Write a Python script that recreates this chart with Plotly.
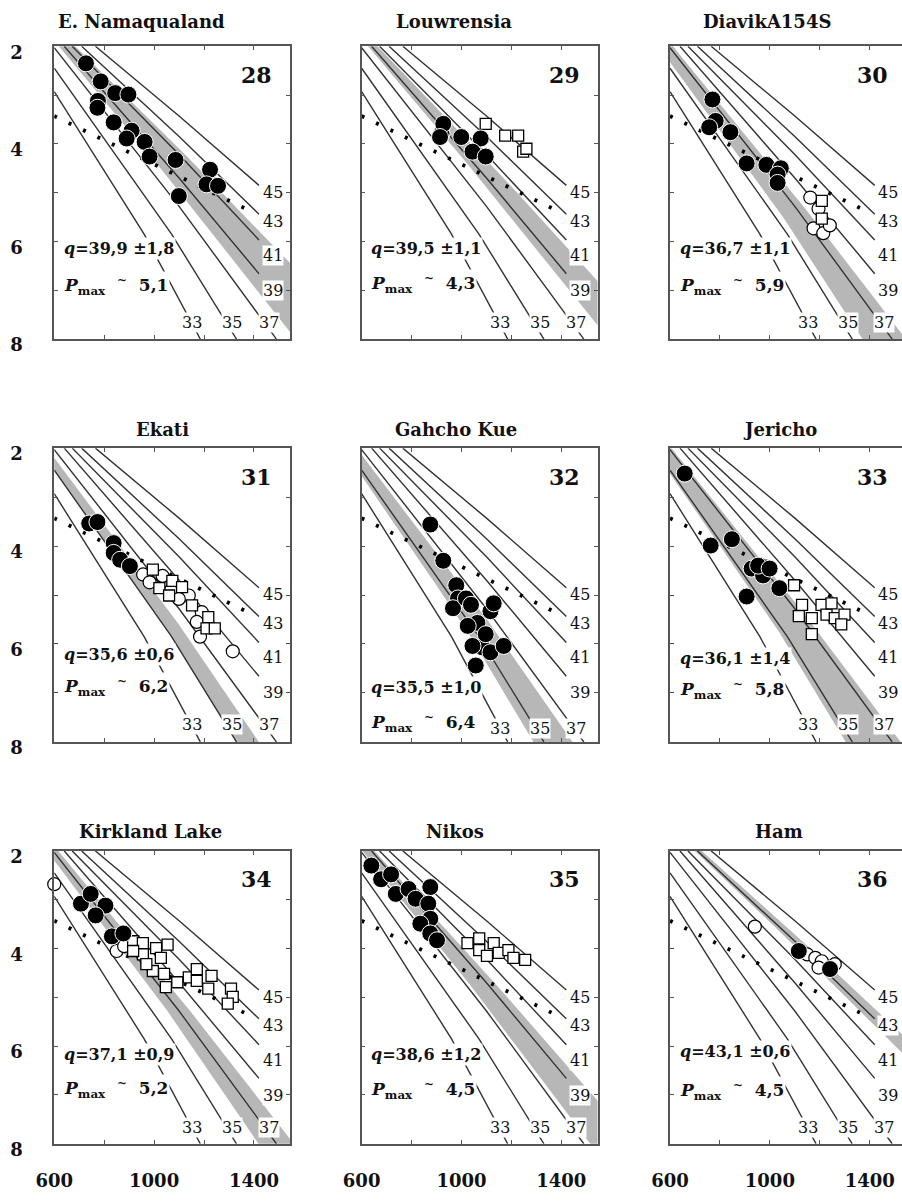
import numpy as np
import plotly.graph_objects as go

W, H = 902, 1203

# ---------------- geotherm family (surface heat flow, mW/m2) ----------------
GEO_Q = [33, 35, 37, 39, 41, 43, 45]
GEO_T = [[600, 960, 1185], [600, 1070, 1330], [600, 1100, 1490],
         [640, 1100, 1420], [672, 1100, 1420], [710, 1100, 1420], [765, 1100, 1420]]
GEO_P = [[2.93, 5.85, 8.0], [2.45, 5.85, 8.0], [2.03, 5.28, 8.0],
         [2.0, 4.70, 6.66], [2.0, 4.22, 5.97], [2.0, 3.85, 5.44], [2.0, 3.43, 4.85]]

# graphite-diamond transition
DG_T = [600, 1400]
DG_P = [3.43, 5.41]

# ---------------- panel info ----------------
NAMES = ["E. Namaqualand", "Louwrensia", "DiavikA154S", "Ekati", "Gahcho Kue",
         "Jericho", "Kirkland Lake", "Nikos", "Ham"]
NUMBERS = [28, 29, 30, 31, 32, 33, 34, 35, 36]
Q_MEAN = [39.9, 39.5, 36.7, 35.6, 35.5, 36.1, 37.1, 38.6, 43.1]
Q_ERR = [1.8, 1.1, 1.1, 0.6, 1.0, 1.4, 0.9, 1.2, 0.6]
Q_TXT = ["39,9", "39,5", "36,7", "35,6", "35,5", "36,1", "37,1", "38,6", "43,1"]
E_TXT = ["1,8", "1,1", "1,1", "0,6", "1,0", "1,4", "0,9", "1,2", "0,6"]
PMAX_TXT = ["5,1", "4,3", "5,9", "6,2", "6,4", "5,8", "5,2", "4,5", "4,5"]

# ---------------- data points ----------------
NAM_CIRC_T = [727, 786, 844, 897, 775, 773, 838, 910, 890, 962, 982, 1086, 1099, 1224, 1210, 1256]
NAM_CIRC_P = [2.35, 2.72, 2.96, 2.99, 3.12, 3.26, 3.56, 3.73, 3.89, 3.96, 4.26, 4.33, 5.07, 4.53, 4.83, 4.86]

LOU_CIRC_T = [920, 927, 914, 999, 1077, 1044, 1097]
LOU_CIRC_P = [3.79, 3.59, 3.86, 3.86, 3.89, 4.16, 4.26]
LOU_SQ_T = [1097, 1175, 1227, 1247, 1260]
LOU_SQ_P = [3.59, 3.83, 3.83, 4.16, 4.10]

DIA_CIRC_T = [770, 783, 757, 842, 907, 986, 1044, 1031, 1031]
DIA_CIRC_P = [3.09, 3.53, 3.66, 3.76, 4.40, 4.43, 4.50, 4.63, 4.80]
DIA_OPEN_T = [1162, 1195, 1175, 1214, 1240]
DIA_OPEN_P = [5.10, 5.33, 5.73, 5.83, 5.67]
DIA_SQ_T = [1208, 1208]
DIA_SQ_P = [5.17, 5.53]

EKA_CIRC_T = [740, 773, 838, 838, 864, 903]
EKA_CIRC_P = [3.54, 3.51, 3.94, 4.14, 4.28, 4.41]
EKA_OPEN_T = [956, 1034, 982, 1067, 1139, 1099, 1191, 1171, 1184, 1315]
EKA_OPEN_P = [4.58, 4.61, 4.74, 4.91, 5.01, 5.08, 5.35, 5.55, 5.85, 6.15]
EKA_SQ_T = [995, 1073, 1021, 1112, 1060, 1152, 1217, 1210, 1243]
EKA_SQ_P = [4.48, 4.71, 4.86, 4.84, 5.01, 5.21, 5.45, 5.68, 5.68]

GAH_CIRC_T = [875, 927, 979, 986, 966, 1018, 1038, 1116, 1129, 1064, 1025, 1084, 1044, 1116, 1169, 1057, 1097]
GAH_CIRC_P = [3.56, 4.30, 4.80, 5.07, 5.27, 5.07, 5.20, 5.33, 5.17, 5.57, 5.63, 6.07, 6.04, 6.17, 6.04, 6.44, 5.80]

JER_CIRC_T = [659, 763, 848, 927, 973, 953, 999, 1038, 907]
JER_CIRC_P = [2.52, 3.99, 3.86, 4.46, 4.60, 4.40, 4.46, 4.86, 5.03]
JER_OPEN_T = [960, 985]
JER_OPEN_P = [4.38, 4.42]
JER_SQ_T = [1097, 1129, 1116, 1168, 1207, 1227, 1260, 1247, 1299, 1286, 1168]
JER_SQ_P = [4.80, 5.20, 5.43, 5.47, 5.20, 5.40, 5.47, 5.17, 5.40, 5.60, 5.80]

KIR_CIRC_T = [707, 746, 805, 766, 831, 877]
KIR_CIRC_P = [3.08, 2.88, 3.12, 3.32, 3.75, 3.69]
KIR_OPEN_T = [600, 850, 880]
KIR_OPEN_P = [2.68, 4.05, 3.95]
KIR_SQ_T = [916, 955, 955, 1008, 1054, 1027, 995, 1040, 1047, 1093, 1139, 1171, 1171, 1217, 1230, 1308, 1315, 1295, 969, 916]
KIR_SQ_P = [3.85, 3.89, 4.12, 3.99, 3.92, 4.19, 4.46, 4.52, 4.79, 4.69, 4.59, 4.42, 4.66, 4.82, 4.56, 4.82, 4.99, 5.13, 4.32, 4.05]

NIK_CIRC_T = [639, 678, 718, 737, 788, 816, 875, 867, 875, 835, 875, 902]
NIK_CIRC_P = [2.30, 2.58, 2.48, 2.88, 2.78, 2.98, 2.74, 3.08, 3.39, 3.49, 3.69, 3.83]
NIK_SQ_T = [1024, 1071, 1071, 1129, 1149, 1188, 1208, 1255, 1102]
NIK_SQ_P = [3.89, 3.79, 4.03, 3.89, 4.09, 4.03, 4.19, 4.23, 4.15]

HAM_CIRC_T = [1116, 1241]
HAM_CIRC_P = [4.05, 4.42]
HAM_OPEN_T = [940, 1150, 1182, 1208, 1260, 1195]
HAM_OPEN_P = [3.55, 4.12, 4.19, 4.26, 4.32, 4.39]

E = []
POINTS = [
    dict(circ=(NAM_CIRC_T, NAM_CIRC_P), open=(E, E), sq=(E, E)),
    dict(circ=(LOU_CIRC_T, LOU_CIRC_P), open=(E, E), sq=(LOU_SQ_T, LOU_SQ_P)),
    dict(circ=(DIA_CIRC_T, DIA_CIRC_P), open=(DIA_OPEN_T, DIA_OPEN_P), sq=(DIA_SQ_T, DIA_SQ_P)),
    dict(circ=(EKA_CIRC_T, EKA_CIRC_P), open=(EKA_OPEN_T, EKA_OPEN_P), sq=(EKA_SQ_T, EKA_SQ_P)),
    dict(circ=(GAH_CIRC_T, GAH_CIRC_P), open=(E, E), sq=(E, E)),
    dict(circ=(JER_CIRC_T, JER_CIRC_P), open=(JER_OPEN_T, JER_OPEN_P), sq=(JER_SQ_T, JER_SQ_P)),
    dict(circ=(KIR_CIRC_T, KIR_CIRC_P), open=(KIR_OPEN_T, KIR_OPEN_P), sq=(KIR_SQ_T, KIR_SQ_P)),
    dict(circ=(NIK_CIRC_T, NIK_CIRC_P), open=(E, E), sq=(NIK_SQ_T, NIK_SQ_P)),
    dict(circ=(HAM_CIRC_T, HAM_CIRC_P), open=(HAM_OPEN_T, HAM_OPEN_P), sq=(E, E)),
]

X_MAJOR = [600, 1000, 1400]
Y_MAJOR = [2, 4, 6, 8]

# ---------------- layout geometry (pixels) ----------------
COL_L = [36, 350, 665]
COL_R = [277, 591, 902]
ROW_T = [42, 451, 861]
ROW_B = [340, 750, 1159]
PX_PER_DEG = 241 / 945.0
TITLE_X = [125, 444, 764, 147, 446, 777, 134, 445, 776]
TITLE_Y = [17, 17, 17, 432, 432, 432, 841, 841, 841]
QTXT_DY = [206, 206, 206, 210, 244, 214, 207, 207, 204]
PMAX_DY = [243, 241, 243, 243, 279, 246, 242, 243, 244]
BOTLAB_DY = [281, 281, 281, 281, 285, 281, 281, 281, 281]

FONT = "DejaVu Serif"
LINE_C = "#555555"
TXT_C = "#111111"


def px(xp):
    return xp / W


def py(yp):
    return 1 - yp / H


def geo_curve(i, T):
    t = np.array(GEO_T[i], float)
    p = np.array(GEO_P[i], float)
    out = np.interp(T, t, p)
    lo = T < t[0]
    hi = T > t[-1]
    out[lo] = p[0] + (T[lo] - t[0]) * (p[1] - p[0]) / (t[1] - t[0])
    out[hi] = p[-1] + (T[hi] - t[-1]) * (p[-1] - p[-2]) / (t[-1] - t[-2])
    return out


def q_curve(q, T):
    i = int(np.clip(np.searchsorted(GEO_Q, q) - 1, 0, len(GEO_Q) - 2))
    f = (q - GEO_Q[i]) / (GEO_Q[i + 1] - GEO_Q[i])
    return (1 - f) * geo_curve(i, T) + f * geo_curve(i + 1, T)


fig = go.Figure()
layout = dict(width=W, height=H, margin=dict(l=0, r=0, t=0, b=0), autosize=False,
              paper_bgcolor="white", plot_bgcolor="white", showlegend=False,
              font=dict(family=FONT, color=TXT_C))
annotations = []
TG = np.linspace(540, 1650, 112)

for k in range(9):
    r, c = divmod(k, 3)
    n = "" if k == 0 else str(k + 1)
    xa, ya = "x" + n, "y" + n
    xmax = 600 + (COL_R[c] - COL_L[c]) / PX_PER_DEG
    layout["xaxis" + n] = dict(
        domain=[px(COL_L[c]), px(COL_R[c])], range=[600, xmax], anchor=ya,
        showline=True, linecolor=LINE_C, linewidth=1.6, mirror="ticks",
        ticks="inside", ticklen=4, tickwidth=1.2, tickcolor=LINE_C,
        tickmode="array", tickvals=X_MAJOR,
        minor=dict(tick0=600, dtick=200, ticks="inside", ticklen=4, tickwidth=1.2,
                   tickcolor=LINE_C, showgrid=False),
        showticklabels=(r == 2), ticklabelstandoff=20,
        tickfont=dict(family=FONT, size=18, color=TXT_C, weight="bold"),
        showgrid=False, zeroline=False, fixedrange=True)
    layout["yaxis" + n] = dict(
        domain=[py(ROW_B[r]), py(ROW_T[r])], range=[8, 2], anchor=xa,
        showline=True, linecolor=LINE_C, linewidth=1.6,
        mirror=("ticks" if c < 2 else False),
        ticks="inside", ticklen=4, tickwidth=1.2, tickcolor=LINE_C,
        tickmode="array", tickvals=Y_MAJOR,
        minor=dict(tick0=2, dtick=1, ticks="inside", ticklen=4, tickwidth=1.2,
                   tickcolor=LINE_C, showgrid=False),
        showticklabels=(c == 0), ticklabelstandoff=26, ticklabelshift=-6,
        tickfont=dict(family=FONT, size=18, color=TXT_C, weight="bold"),
        showgrid=False, zeroline=False, fixedrange=True)

    # uncertainty band
    p_hot = q_curve(Q_MEAN[k] + Q_ERR[k], TG)
    p_cold = q_curve(Q_MEAN[k] - Q_ERR[k], TG)
    fig.add_trace(go.Scatter(x=np.concatenate([TG, TG[::-1]]),
                             y=np.concatenate([p_hot, p_cold[::-1]]),
                             mode="lines", fill="toself", fillcolor="#b7b7b7",
                             line=dict(width=0, color="#b7b7b7"),
                             xaxis=xa, yaxis=ya, hoverinfo="skip"))
    # geotherms
    for i in range(len(GEO_Q)):
        fig.add_trace(go.Scatter(x=GEO_T[i], y=GEO_P[i], mode="lines",
                                 line=dict(color="#333333", width=1.4),
                                 xaxis=xa, yaxis=ya, hoverinfo="skip"))
    # graphite-diamond
    fig.add_trace(go.Scatter(x=DG_T, y=DG_P, mode="lines",
                             line=dict(color="black", width=3.8, dash="3px,13px"),
                             xaxis=xa, yaxis=ya, hoverinfo="skip"))
    pts = POINTS[k]
    if len(pts["open"][0]):
        fig.add_trace(go.Scatter(x=pts["open"][0], y=pts["open"][1], mode="markers",
                                 marker=dict(symbol="circle", size=13, color="white",
                                             line=dict(color="black", width=1.2)),
                                 cliponaxis=False, xaxis=xa, yaxis=ya))
    if len(pts["sq"][0]):
        fig.add_trace(go.Scatter(x=pts["sq"][0], y=pts["sq"][1], mode="markers",
                                 marker=dict(symbol="square", size=11, color="white",
                                             line=dict(color="black", width=1.3)),
                                 cliponaxis=False, xaxis=xa, yaxis=ya))
    if len(pts["circ"][0]):
        fig.add_trace(go.Scatter(x=pts["circ"][0], y=pts["circ"][1], mode="markers",
                                 marker=dict(symbol="circle", size=17, color="black",
                                             line=dict(color="white", width=1)),
                                 cliponaxis=False, xaxis=xa, yaxis=ya))

    L, T0 = COL_L[c], ROW_T[r]
    # title
    annotations.append(dict(x=px(TITLE_X[k]), y=py(TITLE_Y[k]), xref="paper", yref="paper",
                            text="<b>%s</b>" % NAMES[k], showarrow=False,
                            xanchor="center", yanchor="middle",
                            font=dict(family=FONT, size=18, color=TXT_C)))
    # panel number
    annotations.append(dict(x=px(L + 207), y=py(T0 + 29), xref="paper", yref="paper",
                            text="<b>%d</b>" % NUMBERS[k], showarrow=False,
                            xanchor="center", yanchor="middle",
                            font=dict(family=FONT, size=22, color=TXT_C)))
    # q text
    annotations.append(dict(x=px(L + 8), y=py(T0 + QTXT_DY[k]), xref="paper", yref="paper",
                            text="<i>q</i>=%s ±%s" % (Q_TXT[k], E_TXT[k]), showarrow=False,
                            xanchor="left", yanchor="middle", bgcolor="white", borderpad=1,
                            font=dict(family=FONT, size=16, color=TXT_C, weight="bold")))
    annotations.append(dict(x=px(L + 8), y=py(T0 + PMAX_DY[k]), xref="paper", yref="paper",
                            text="<i>P</i><sub>max</sub>&nbsp;&nbsp;<sup>~</sup>&nbsp;&nbsp;%s" % PMAX_TXT[k],
                            showarrow=False, xanchor="left", yanchor="middle",
                            bgcolor="white", borderpad=1,
                            font=dict(family=FONT, size=17, color=TXT_C, weight="bold")))
    # geotherm labels
    side = [(45, 223, 149), (43, 223, 178), (41, 223, 213), (39, 223, 249),
            (33, 141, BOTLAB_DY[k]), (35, 182, BOTLAB_DY[k]), (37, 219, BOTLAB_DY[k])]
    for lab, dx, dy in side:
        annotations.append(dict(x=px(L + dx), y=py(T0 + dy), xref="paper", yref="paper",
                                text=str(lab), showarrow=False, xanchor="center", yanchor="middle",
                                bgcolor="white", borderpad=0,
                                font=dict(family=FONT, size=16, color=TXT_C)))

layout["annotations"] = annotations
fig.update_layout(**layout)
fig.write_html("out.html")
